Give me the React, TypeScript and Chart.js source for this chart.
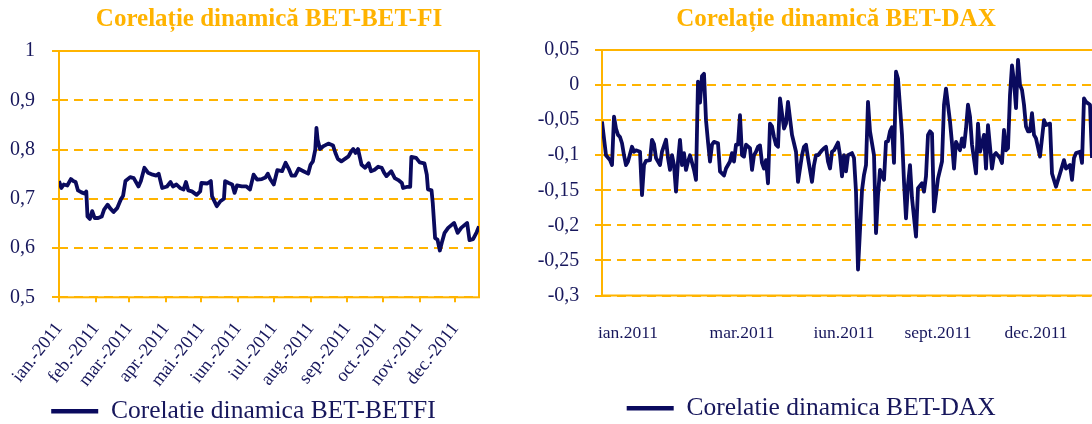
import React, { useEffect, useRef } from "react";
import { Chart, registerables } from "chart.js";

Chart.register(...registerables);

const FONT = "'Liberation Serif', 'Times New Roman', serif";
const NAVY = "#0A0A5E";
const TEXT_NAVY = "#17175C";
const ORANGE = "#FFB400";
const TITLE_ORANGE = "#FFB300";

// ---------- Left chart: BET - BET-FI ----------
const betfiTitle = "Corelație dinamică BET-BET-FI";
const betfiLegend = "Corelatie dinamica BET-BETFI";
const monthLabels = [
  "ian.-2011", "feb.-2011", "mar.-2011", "apr.-2011", "mai.-2011", "iun.-2011",
  "iul.-2011", "aug.-2011", "sep.-2011", "oct.-2011", "nov.-2011", "dec.-2011",
];
const monthStartDays = [0, 31, 59, 90, 120, 151, 181, 212, 243, 273, 304, 334];
const betfiDays = [
  0, 2, 4, 7, 10, 12, 14, 16, 19, 22, 23, 24, 26, 28, 30, 33, 36, 38, 41, 43, 46, 49,
  52, 54, 56, 60, 63, 67, 69, 72, 75, 79, 82, 84, 87, 91, 94, 96, 99, 102, 105, 107,
  109, 112, 116, 119, 120, 125, 128, 129, 133, 136, 139, 140, 143, 146, 148, 150, 154,
  158, 161, 164, 167, 171, 174, 176, 178, 181, 184, 188, 191, 194, 196, 199, 202, 206,
  210, 212, 214, 216, 217, 218, 220, 223, 227, 231, 233, 235, 238, 241, 244, 246, 248,
  250, 252, 255, 258, 261, 263, 266, 269, 272, 274, 276, 280, 283, 286, 289, 290, 293,
  296, 297, 301, 304, 308, 310, 311, 314, 315, 317, 319, 321, 323, 325, 328, 331, 333,
  336, 339, 342, 344, 346, 349, 352, 354,
];
const betfiValues = [
  0.736, 0.722, 0.729, 0.727, 0.74, 0.736, 0.734, 0.717, 0.713, 0.71, 0.715, 0.664,
  0.659, 0.675, 0.661, 0.661, 0.664, 0.678, 0.688, 0.681, 0.673, 0.681, 0.698, 0.706,
  0.736, 0.744, 0.742, 0.725, 0.736, 0.763, 0.753, 0.749, 0.747, 0.751, 0.722, 0.725,
  0.734, 0.725, 0.729, 0.722, 0.719, 0.734, 0.717, 0.715, 0.708, 0.715, 0.732, 0.731,
  0.736, 0.705, 0.685, 0.695, 0.7, 0.736, 0.732, 0.729, 0.712, 0.727, 0.725, 0.725,
  0.719, 0.749, 0.739, 0.74, 0.743, 0.751, 0.74, 0.729, 0.758, 0.756, 0.773, 0.759,
  0.747, 0.747, 0.761, 0.756, 0.751, 0.769, 0.776, 0.8, 0.844, 0.82, 0.801, 0.807,
  0.812, 0.808, 0.793, 0.781, 0.776, 0.781, 0.786, 0.795, 0.801, 0.793, 0.801, 0.769,
  0.763, 0.772, 0.756, 0.759, 0.765, 0.763, 0.753, 0.746, 0.756, 0.742, 0.738, 0.732,
  0.722, 0.724, 0.724, 0.785, 0.783, 0.774, 0.772, 0.749, 0.719, 0.717, 0.692, 0.62,
  0.617, 0.595, 0.614, 0.631, 0.641, 0.647, 0.651, 0.631, 0.641, 0.647, 0.651, 0.616,
  0.618, 0.632, 0.644,
];

// ---------- Right chart: BET - DAX ----------
const daxTitle = "Corelație dinamică BET-DAX";
const daxLegend = "Corelatie dinamica BET-DAX";
const daxTickLabels = ["ian.2011", "mar.2011", "iun.2011", "sept.2011", "dec.2011"];
const daxTickSessions = [13, 70, 121, 168, 217];
const daxSessions = [
  0, 1, 2, 4, 5, 6, 7, 8, 9, 10, 11, 12, 13, 15, 16, 17, 19, 20, 21, 22, 24, 25, 26, 27,
  29, 30, 32, 33, 34, 35, 36, 37, 38, 39, 40, 41, 42, 43, 44, 46, 47, 48, 49, 50, 51, 52,
  53, 54, 55, 56, 58, 59, 61, 62, 64, 65, 66, 67, 68, 69, 70, 71, 72, 74, 75, 76, 77, 78,
  79, 80, 81, 82, 83, 84, 85, 86, 87, 88, 89, 91, 92, 93, 95, 96, 97, 98, 100, 101, 102,
  103, 105, 106, 107, 108, 110, 111, 112, 113, 114, 115, 116, 118, 119, 120, 121, 122,
  123, 125, 126, 127, 128, 130, 131, 132, 133, 134, 136, 137, 138, 139, 141, 142, 143,
  144, 145, 146, 147, 148, 150, 151, 152, 153, 154, 155, 157, 158, 160, 161, 162, 163,
  164, 165, 166, 168, 169, 170, 171, 172, 174, 175, 176, 177, 179, 180, 181, 182, 183,
  184, 185, 187, 188, 189, 191, 192, 193, 195, 196, 197, 199, 200, 201, 202, 203, 204,
  205, 206, 207, 208, 209, 210, 211, 212, 213, 214, 215, 216, 217, 219, 221, 222, 224,
  225, 227, 229, 231, 232, 234, 235, 236, 237, 239, 240, 241, 242, 244, 245,
];
const daxValues = [
  -0.052, -0.076, -0.1, -0.107, -0.114, -0.045, -0.062, -0.071, -0.074, -0.083, -0.1,
  -0.114, -0.109, -0.088, -0.095, -0.093, -0.095, -0.157, -0.114, -0.108, -0.107, -0.078,
  -0.084, -0.104, -0.114, -0.095, -0.078, -0.104, -0.121, -0.1, -0.114, -0.152, -0.109,
  -0.078, -0.114, -0.097, -0.121, -0.109, -0.1, -0.121, -0.135, 0.005, -0.025, 0.013,
  0.016, -0.05, -0.081, -0.109, -0.085, -0.081, -0.083, -0.123, -0.129, -0.119, -0.109,
  -0.097, -0.109, -0.085, -0.085, -0.043, -0.1, -0.102, -0.085, -0.09, -0.121, -0.1,
  -0.095, -0.088, -0.086, -0.111, -0.119, -0.107, -0.14, -0.055, -0.059, -0.074, -0.085,
  -0.088, -0.019, -0.062, -0.055, -0.024, -0.071, -0.083, -0.095, -0.138, -0.1, -0.088,
  -0.085, -0.104, -0.138, -0.114, -0.1, -0.1, -0.093, -0.09, -0.088, -0.109, -0.119,
  -0.095, -0.093, -0.082, -0.1, -0.13, -0.1, -0.123, -0.1, -0.097, -0.104, -0.152,
  -0.263, -0.15, -0.128, -0.114, -0.024, -0.066, -0.1, -0.211, -0.157, -0.121, -0.135,
  -0.081, -0.08, -0.066, -0.06, -0.111, 0.019, 0.009, -0.071, -0.138, -0.19, -0.142,
  -0.114, -0.161, -0.216, -0.147, -0.14, -0.152, -0.13, -0.071, -0.066, -0.069, -0.18,
  -0.133, -0.121, -0.109, -0.028, -0.005, -0.052, -0.083, -0.119, -0.081, -0.093, -0.076,
  -0.088, -0.062, -0.028, -0.045, -0.085, -0.126, -0.055, -0.095, -0.071, -0.119, -0.057,
  -0.119, -0.1, -0.097, -0.104, -0.111, -0.064, -0.093, -0.09, -0.014, 0.028, 0.005,
  -0.033, 0.036, 0.0, -0.007, -0.028, -0.059, -0.066, -0.066, -0.04, -0.071, -0.076,
  -0.102, -0.05, -0.057, -0.055, -0.126, -0.145, -0.126, -0.107, -0.119, -0.114, -0.135,
  -0.104, -0.097, -0.095, -0.111, -0.019, -0.024, -0.028, -0.104,
];

const fmt = (v: number) => String(Math.round(v * 100) / 100).replace(".", ",");

const framePlugin = {
  id: "orangeFrame",
  beforeDatasetsDraw(chart: any) {
    const { ctx, chartArea: a } = chart;
    ctx.save();
    ctx.strokeStyle = ORANGE;
    ctx.lineWidth = 2;
    ctx.strokeRect(a.left, a.top, a.right - a.left, a.bottom - a.top);
    ctx.restore();
  },
};

const legendLabels = (chart: any) =>
  Chart.defaults.plugins.legend.labels
    .generateLabels(chart)
    .map((l: any) => ({ ...l, lineWidth: 4.5, pointStyle: "line" }));

function leftConfig(): any {
  return {
    type: "line",
    data: {
      datasets: [
        {
          label: betfiLegend,
          data: betfiDays.map((d, i) => ({ x: d, y: betfiValues[i] })),
          borderColor: NAVY,
          backgroundColor: NAVY,
          borderWidth: 3.8,
          pointRadius: 0,
          tension: 0,
          borderJoinStyle: "round",
        },
      ],
    },
    options: {
      responsive: false,
      animation: false,
      layout: { padding: { left: 8, right: 9, top: 0, bottom: 0 } },
      plugins: {
        tooltip: { enabled: false },
        title: {
          display: true,
          text: betfiTitle,
          color: TITLE_ORANGE,
          fullSize: false,
          font: { family: FONT, size: 25, weight: "bold", lineHeight: 1.2 },
          padding: { top: 5, bottom: 16 },
        },
        legend: {
          display: true,
          position: "bottom",
          align: "center",
          fullSize: true,
          labels: {
            usePointStyle: true,
            pointStyle: "line",
            pointStyleWidth: 47,
            boxWidth: 47,
            padding: 10,
            color: TEXT_NAVY,
            font: { family: FONT, size: 25.5 },
            generateLabels: legendLabels,
          },
        },
      },
      scales: {
        x: {
          type: "linear",
          min: 0,
          max: 354,
          afterBuildTicks: (s: any) => {
            s.ticks = monthStartDays.map((v) => ({ value: v }));
          },
          afterFit: (s: any) => {
            s.height = 91.2;
            s.paddingLeft = 0;
            s.paddingRight = 0;
          },
          grid: {
            display: true,
            drawOnChartArea: false,
            drawTicks: true,
            tickLength: 5,
            color: ORANGE,
            lineWidth: 2,
          },
          border: { display: false },
          ticks: {
            autoSkip: false,
            minRotation: 52,
            maxRotation: 52,
            padding: 16,
            labelOffset: 0,
            color: TEXT_NAVY,
            font: { family: FONT, size: 18.5 },
            callback: (_v: any, i: number) => monthLabels[i],
          },
        },
        y: {
          type: "linear",
          min: 0.5,
          max: 1,
          afterFit: (s: any) => {
            s.width = 51;
          },
          grid: { color: ORANGE, lineWidth: 2, drawTicks: true, tickLength: 7 },
          border: { display: false, dash: [9, 6] },
          ticks: {
            stepSize: 0.1,
            padding: 17,
            color: TEXT_NAVY,
            font: { family: FONT, size: 20 },
            callback: (v: number) => fmt(v),
          },
        },
      },
    },
    plugins: [framePlugin],
  };
}

function rightConfig(): any {
  return {
    type: "line",
    data: {
      datasets: [
        {
          label: daxLegend,
          data: daxSessions.map((d, i) => ({ x: d, y: daxValues[i] })),
          borderColor: NAVY,
          backgroundColor: NAVY,
          borderWidth: 3.8,
          pointRadius: 0,
          tension: 0,
          borderJoinStyle: "round",
        },
      ],
    },
    options: {
      responsive: false,
      animation: false,
      layout: { padding: { left: 45, right: 0, top: 0, bottom: 0 } },
      plugins: {
        tooltip: { enabled: false },
        title: {
          display: true,
          text: daxTitle,
          color: TITLE_ORANGE,
          fullSize: true,
          font: { family: FONT, size: 25, weight: "bold", lineHeight: 1.2 },
          padding: { top: 5, bottom: 15 },
        },
        legend: {
          display: true,
          position: "bottom",
          align: "start",
          fullSize: false,
          labels: {
            usePointStyle: true,
            pointStyle: "line",
            pointStyleWidth: 47,
            boxWidth: 47,
            padding: 24.7,
            color: TEXT_NAVY,
            font: { family: FONT, size: 25.5 },
            generateLabels: legendLabels,
          },
        },
      },
      scales: {
        x: {
          type: "linear",
          min: 0,
          max: 267.5,
          afterBuildTicks: (s: any) => {
            s.ticks = daxTickSessions.map((v) => ({ value: v }));
          },
          afterFit: (s: any) => {
            s.height = 75.3;
            s.paddingLeft = 0;
            s.paddingRight = 0;
          },
          grid: { display: false, drawTicks: false },
          border: { display: false },
          ticks: {
            autoSkip: false,
            minRotation: 0,
            maxRotation: 0,
            padding: 27,
            color: TEXT_NAVY,
            font: { family: FONT, size: 17.5 },
            callback: (_v: any, i: number) => daxTickLabels[i],
          },
        },
        y: {
          type: "linear",
          min: -0.3,
          max: 0.05,
          afterFit: (s: any) => {
            s.width = 67;
          },
          grid: { color: ORANGE, lineWidth: 2, drawTicks: true, tickLength: 7 },
          border: { display: false, dash: [9, 6] },
          ticks: {
            stepSize: 0.05,
            padding: 15.7,
            color: TEXT_NAVY,
            font: { family: FONT, size: 20 },
            callback: (v: number) => fmt(v),
          },
        },
      },
    },
    plugins: [framePlugin],
  };
}

export default function App() {
  const leftRef = useRef<HTMLCanvasElement>(null);
  const rightRef = useRef<HTMLCanvasElement>(null);

  useEffect(() => {
    const c1 = new Chart(leftRef.current as HTMLCanvasElement, leftConfig());
    const c2 = new Chart(rightRef.current as HTMLCanvasElement, rightConfig());
    return () => {
      c1.destroy();
      c2.destroy();
    };
  }, []);

  return (
    <div
      style={{
        position: "absolute",
        left: 0,
        top: 0,
        width: 1092,
        height: 424,
        overflow: "hidden",
        background: "#ffffff",
      }}
    >
      <canvas
        ref={leftRef}
        width={488}
        height={434}
        style={{ position: "absolute", left: 0, top: 0, width: 488, height: 434 }}
      />
      <canvas
        ref={rightRef}
        width={647}
        height={431}
        style={{ position: "absolute", left: 490, top: 0, width: 647, height: 431 }}
      />
    </div>
  );
}
